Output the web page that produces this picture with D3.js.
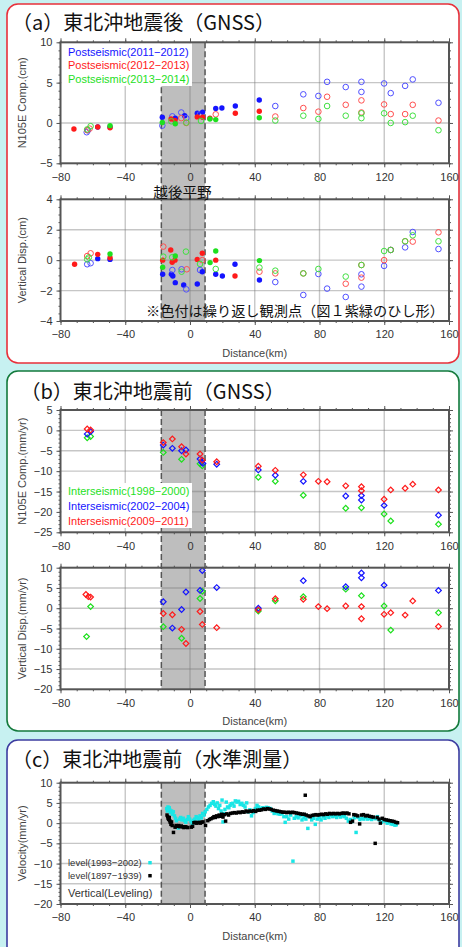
<!DOCTYPE html>
<html>
<head>
<meta charset="utf-8">
<script src="https://cdn.jsdelivr.net/npm/d3@7"></script>
<style>
  body { margin: 0; background: #c7f1f1; }
  svg { display: block; }
</style>
</head>
<body>
<svg id="chart"></svg>
<script>
// ---- data ----
var xTickValues = [-80, -40, 0, 40, 80, 120, 160];
var plainBand = [-17.7, 9.3];   // 越後平野 (km)

// (a) postseismic GNSS  [distance km, disp cm, 1 = repeat site (filled)]
var post1112H = [[-63.8,-1.15,0],[-63,-0.9,0],[-57,-0.5,1],[-49.4,-0.5,1],[-17.1,0.7,1],[-17.1,-0.33,0],[-10.9,0.82,0],[-9.1,0.6,1],[-5.4,1.3,0],[-3.3,0.9,1],[-2.3,0.6,0],[4.5,1.2,1],[6.2,1.1,0],[7.8,1.35,1],[15.9,1.8,1],[19.7,1.85,1],[28,2.1,1],[42.8,2.85,1],[52.7,2.1,0],[70,3.55,0],[79.3,3.35,0],[84.7,5.1,0],[96.2,4.45,0],[105.9,5.1,0],[105.9,3.85,0],[119.9,4.9,0],[124,3.7,0],[132.9,4.6,0],[137.6,5.4,0],[153.5,2.5,0]];
var post1213H = [[-71.7,-0.75,1],[-63.5,-0.9,0],[-62,-0.7,0],[-57,-0.5,1],[-49.4,-0.6,1],[-11.7,0.5,1],[-9.3,0.3,1],[-5.4,0.6,0],[-2.3,0,0],[4.5,0.75,1],[7.8,0.7,1],[12.3,0.6,1],[15.9,1.07,0],[28,1.2,1],[42.8,1.45,1],[52.7,0.8,0],[70,1.85,0],[79.3,1.4,0],[84.7,3.25,0],[96.2,2.25,0],[105.9,2.8,0],[105.9,1.3,0],[119.9,2.3,0],[124,1.1,0],[132.9,1.1,0],[137.6,2.25,0],[153.5,0.3,0]];
var post1314H = [[-63.5,-0.8,0],[-61.4,-0.4,0],[-49.4,-0.33,1],[-17.1,0.05,1],[-11.5,0.2,0],[-9.1,-0.1,1],[-2.3,0.05,0],[6.8,0.25,0],[12.3,0.5,1],[15.9,0.42,1],[42.8,0.65,1],[52.7,0.3,0],[70,0.9,0],[79.3,0.5,0],[84.7,2.1,0],[96.2,0.9,0],[105.9,1.2,0],[105.9,0.6,0],[119.9,1.2,0],[124,0,0],[132.9,0.1,0],[137.6,0.9,0],[153.5,-0.9,0]];

var post1112V = [[-63.5,-0.27,0],[-61.4,-0.2,0],[-57,0.1,1],[-49.4,0.05,1],[-16.9,-0.93,1],[-11.5,-0.93,1],[-10.9,-0.65,0],[-10.6,-1.04,1],[-9.1,-1.48,1],[-5.2,-0.6,0],[-3.9,-1.63,1],[-2.3,-1.92,0],[4.5,-1.57,1],[6.2,-0.65,0],[7.6,-0.76,1],[15.9,-0.93,1],[20,-1.04,1],[27.8,-0.27,1],[42.9,-1.3,1],[52.7,-1.44,0],[70,-2.29,0],[79.3,-0.91,0],[84.7,-1.87,0],[96.2,-2.42,0],[105.9,-0.93,0],[105.9,-1.74,0],[119.9,-0.38,0],[124,0.67,0],[132.9,0.84,0],[137.6,1.85,0],[153.5,0.73,0]];
var post1213V = [[-71.3,-0.27,1],[-63.5,0.27,0],[-61.4,0.45,0],[-57,0.38,1],[-49.4,0.16,1],[-16.9,0,1],[-16.5,0.89,0],[-11.9,0.67,1],[-11,-0.14,1],[-9.3,0,1],[-2,-0.6,0],[4.5,0.05,1],[7.6,0.45,1],[7.6,0,0],[15.9,0,1],[27.8,-1.04,1],[42.9,-0.76,0],[52.7,-0.87,0],[70,-0.87,0],[96.2,-1.55,0],[105.9,-0.32,0],[105.9,-1.15,0],[119.9,0,0],[124,0.67,0],[132.9,1.24,0],[137.6,1.22,0],[153.5,1.83,0]];
var post1314V = [[-63.5,0.05,0],[-62.5,0.18,0],[-49.4,0.4,1],[-16.9,-0.47,1],[-16.5,0.23,0],[-11,0.19,0],[-9.1,0.27,1],[-5.2,-0.76,0],[-2.5,0.56,0],[6.2,-0.25,0],[12.4,-0.16,1],[15.9,0.6,1],[15.9,-0.58,0],[42.9,-0.03,1],[42.9,-0.49,0],[52.7,-0.69,0],[70,-0.87,0],[79.3,-0.58,0],[96.2,-1.08,0],[105.9,-0.32,0],[119.9,0.6,0],[124,0.67,0],[132.9,1.24,0],[137.6,1.63,0],[153.5,1.24,0]];

// (b) interseismic GNSS  [distance km, mm/yr]
var inter9800H = [[-63.5,-1.8],[-61.4,-1.5],[-16.5,-5.4],[-5.2,-7.1],[6.2,-8.2],[7.6,-8.7],[42.2,-11.5],[52.7,-12.5],[70,-15.9],[96.2,-19.1],[105.9,-19.0],[119.9,-20.5],[124,-22.2],[153.5,-23.0]];
var inter0204H = [[-63.5,-0.9],[-61.4,-0.3],[-16.5,-3.6],[-10.9,-4.4],[-5.2,-5.0],[-2.5,-4.8],[6.2,-7.0],[7.2,-7.8],[8,-8.1],[16.5,-8.3],[42.2,-9.7],[52.7,-11.0],[70,-12.5],[96.2,-16.1],[105.9,-16.0],[105.9,-17.1],[119.9,-18.4],[153.5,-20.8]];
var inter0911H = [[-63.5,0.35],[-61.4,0.1],[-16.5,-3.0],[-10.9,-2.1],[-5.2,-4.0],[-2.5,-5.8],[6.2,-5.8],[7.6,-7.3],[16.5,-7.7],[42.2,-8.8],[52.7,-9.8],[70,-10.9],[79.3,-12.5],[84.7,-12.6],[96.2,-13.6],[105.9,-13.8],[105.9,-14.8],[119.9,-16.9],[124,-14.6],[132.9,-14.2],[137.6,-13.2],[153.5,-14.6]];

var inter9800V = [[-63.9,-7.0],[-61.4,0.4],[-16.5,-4.55],[-5.2,-7.4],[6.2,2.4],[7.6,4.2],[42.2,-0.7],[52.7,1.85],[70,2.85],[96.2,4.7],[105.9,3.1],[119.9,0.55],[124,-5.4],[153.5,-1.1]];
var inter0204V = [[-16.5,1.6],[-10.9,-4.9],[-5.2,-0.3],[-2.5,4.0],[6.2,4.4],[7.6,9.3],[16.5,5.1],[42.2,0],[70,6.8],[96.2,5.3],[105.9,8.7],[105.9,7.5],[119.9,5.7],[153.5,4.4]];
var inter0911V = [[-64.3,3.4],[-62.8,2.85],[-61.4,2.75],[-16.5,-1.3],[-10.9,-1.6],[-5.2,-5.2],[-2.5,-8.7],[6.2,-0.8],[7.6,-4.0],[16.5,-4.8],[42.2,-0.4],[52.7,2.35],[70,2.2],[79.3,0.4],[84.7,-0.1],[96.2,0.55],[105.9,0.4],[105.9,-2.6],[119.9,-1.5],[124,-1.1],[132.9,-1.7],[137.6,1.8],[153.5,-4.5]];

// (c) leveling  [distance km, mm/yr]
var level9302 = [[-14.4,3.6],[-14.0,3.0],[-13.6,4.0],[-13.2,3.4],[-12.8,3.8],[-12.4,3.2],[-12.0,2.6],[-11.4,3.0],[-10.8,2.2],[-10.3,2.8],[-9.6,1.8],[-9.0,1.2],[-8.4,0.6],[-7.8,-0.8],[-7.2,-1.2],[-6.6,1.0],[-5.8,1.4],[-5.0,0.8],[-4.2,1.2],[-3.4,0.6],[-2.6,0.2],[-1.8,0.9],[-1.0,1.6],[-0.2,1.0],[0.6,0.4],[1.4,-0.1],[2.2,0.7],[3.0,1.0],[3.8,1.6],[4.6,1.3],[5.4,1.0],[6.2,1.8],[7.0,1.3],[7.8,2.4],[8.6,2.0],[9.4,2.8],[10.4,3.4],[11.4,4.0],[12.4,4.4],[13.4,4.9],[14.4,5.3],[15.2,4.6],[16.0,4.2],[16.8,5.0],[17.6,3.6],[18.4,4.4],[19.2,3.0],[19.8,5.7],[20.4,0.3],[21.0,2.4],[21.6,3.4],[22.4,5.2],[23.2,4.0],[24.0,3.8],[24.8,4.4],[25.6,4.8],[26.4,4.9],[27.2,4.2],[28.0,5.5],[29.0,5.2],[30.0,5.4],[31.0,4.6],[32.0,4.9],[33.0,4.4],[34.0,4.0],[35.0,5.0],[36.0,2.8],[37.0,3.3],[38.0,1.8],[39.0,2.6],[40.4,3.6],[41.4,4.4],[42.4,4.0],[43.6,3.6],[44.8,3.8],[46.0,3.7],[47.2,3.9],[48.4,3.8],[49.6,3.6],[50.8,3.0],[52.0,2.4],[53.2,2.6],[54.4,2.3],[55.6,2.2],[56.8,2.4],[58.0,1.6],[58.8,0.2],[59.8,1.6],[61.0,1.0],[62.2,2.0],[63.6,-9.4],[64.4,1.2],[65.6,1.6],[66.8,1.3],[68.0,1.8],[69.2,0.8],[70.4,1.4],[71.6,1.0],[72.8,-1.3],[74.0,1.6],[75.2,0.8],[76.4,1.2],[77.4,-0.3],[78.6,1.0],[79.8,1.4],[81.0,0.8],[82.2,1.6],[83.4,1.2],[84.6,1.8],[85.8,1.4],[87.0,2.0],[88.2,1.6],[89.4,1.8],[90.6,1.4],[91.8,1.9],[93.0,1.5],[94.2,1.8],[95.4,1.6],[96.6,1.2],[97.8,0.5],[99.0,0.9],[100.2,0.4],[101.4,1.3],[102.6,-2.3],[103.8,1.4],[105.0,0.9],[106.2,1.2],[107.4,1.0],[108.6,1.4],[109.8,1.0],[111.0,1.2],[112.2,0.9],[113.4,1.3],[114.6,1.1],[115.8,1.6],[117.0,0.8],[118.2,0.2],[119.4,0.6],[120.6,0.5],[121.8,0.0],[123.0,0.2],[124.2,-0.2],[125.4,-0.3],[126.6,-0.5],[127.4,-0.4]];
var level1897 = [[-14.2,2.0],[-13.8,1.6],[-13.5,1.2],[-13.2,0.9],[-12.8,1.4],[-12.5,0.6],[-12.2,0.2],[-11.8,-0.3],[-11.4,0.3],[-11.0,-0.6],[-10.2,-2.3],[-9.2,-1.0],[-8.6,-0.6],[-7.8,-0.8],[-7.0,-0.6],[-6.2,-0.9],[-5.4,-0.7],[-4.6,-0.9],[-3.8,-1.1],[-3.0,-0.9],[-2.2,-1.0],[-1.4,-1.1],[0.8,-1.0],[1.6,-0.8],[2.4,0.1],[3.2,0.2],[4.0,0.0],[4.8,0.1],[5.6,0.2],[6.4,0.0],[7.2,0.2],[8.0,0.3],[9.6,-0.6],[11.0,0.6],[12.0,0.9],[13.0,1.1],[14.0,1.3],[14.8,1.6],[15.6,1.4],[16.4,1.8],[17.2,1.6],[18.0,2.0],[18.8,1.7],[19.6,2.2],[20.4,1.5],[21.2,2.1],[22.0,0.5],[22.8,2.3],[23.8,2.0],[25.0,2.4],[26.2,2.5],[27.4,2.6],[28.6,2.5],[29.8,2.7],[31.0,2.6],[32.2,2.8],[33.4,2.7],[34.6,3.0],[35.8,2.8],[37.0,3.0],[38.2,2.9],[39.4,3.1],[40.6,2.9],[41.8,3.2],[43.0,3.2],[44.2,3.3],[45.4,3.5],[46.6,3.4],[47.8,3.6],[49.0,3.5],[50.2,3.4],[51.4,3.2],[52.6,3.1],[53.8,3.0],[55.0,2.9],[56.2,2.8],[57.4,2.7],[58.6,2.7],[59.8,2.6],[61.0,2.7],[62.2,2.6],[63.4,2.7],[64.6,2.6],[65.8,2.5],[67.0,2.4],[68.2,2.3],[69.4,2.2],[70.6,2.2],[71.2,6.9],[71.8,2.0],[73.0,1.8],[74.2,1.6],[75.4,1.9],[76.6,2.0],[77.8,2.1],[79.0,2.0],[80.2,2.1],[81.4,2.2],[82.6,2.1],[83.8,2.3],[85.0,2.2],[86.2,2.4],[87.4,2.3],[88.6,2.4],[89.8,2.3],[91.0,2.4],[92.2,2.3],[93.4,2.4],[94.6,2.5],[95.8,2.4],[97.0,2.5],[98.2,2.3],[99.2,0.2],[100.4,0.5],[101.2,2.1],[102.4,2.0],[103.6,1.8],[104.8,-0.2],[106.0,2.0],[107.2,2.1],[108.4,1.8],[109.6,1.9],[110.8,1.7],[112.0,1.6],[113.2,1.5],[114.4,-5.0],[115.6,1.4],[116.8,1.0],[117.6,0.0],[118.8,1.2],[120.0,0.9],[121.2,0.8],[122.4,0.7],[123.6,0.6],[124.8,0.5],[126.0,0.4],[127.2,0.2],[128.2,0.1]];

// ---- colours ----
var blue = "#1414ff", red = "#ff1a1a", green = "#1ee01e";
var openBlue = "#5050ff", openRed = "#ff5050", openGreen = "#40e040";
var cyan = "#19e6e6";

// ---- svg ----
var svgWidth = 462, svgHeight = 947;
var svg = d3.select("#chart").attr("width", svgWidth).attr("height", svgHeight);
var x = d3.scaleLinear().domain([-80, 160]).range([60.5, 449]);
var frameColor = "#555";
var sans = "'Liberation Sans', Arial, sans-serif";
var jp = "'Noto Sans CJK JP', sans-serif";

function panelBox(y0, h, color) {
  svg.append("rect")
    .attr("x", 7).attr("y", y0).attr("width", 452).attr("height", h)
    .attr("rx", 11)
    .attr("fill", "white").attr("stroke", color).attr("stroke-width", 1.6);
}

function title(tx, ty, txt) {
  svg.append("text").attr("x", tx).attr("y", ty)
    .style("font-family", jp).style("font-size", "20px").attr("fill", "#111")
    .text(txt);
}

function band(y0, y1) {
  svg.append("rect")
    .attr("x", x(plainBand[0])).attr("y", y0)
    .attr("width", x(plainBand[1]) - x(plainBand[0])).attr("height", y1 - y0)
    .attr("fill", "#bebebe");
}

function bandEdges(y0, y1) {
  plainBand.forEach(function(v) {
    svg.append("line")
      .attr("x1", x(v)).attr("x2", x(v)).attr("y1", y0).attr("y2", y1)
      .attr("stroke", "#555").attr("stroke-width", 1.5)
      .attr("stroke-dasharray", "6,3");
  });
}

// grid for one plot, returns the y scale
function makePlot(cfg) {
  var y = d3.scaleLinear().domain(cfg.domain).range([cfg.bottom, cfg.top]);
  var grid = svg.append("g").attr("stroke", "#777").attr("stroke-opacity", 0.42).attr("stroke-width", 1.4);
  xTickValues.slice(1, -1).forEach(function(v) {
    grid.append("line").attr("x1", x(v)).attr("x2", x(v)).attr("y1", cfg.top).attr("y2", cfg.bottom);
  });
  cfg.labels.slice(1, -1).forEach(function(v) {
    grid.append("line").attr("x1", x.range()[0]).attr("x2", x.range()[1]).attr("y1", y(v)).attr("y2", y(v));
  });
  return y;
}

// frame, ticks and labels drawn on top
function finishPlot(cfg, y) {
  var xr = x.range();
  var xMinor = d3.range(-80, 161, 10);

  var bottom = svg.append("g").attr("transform", "translate(0," + cfg.bottom + ")");
  bottom.call(d3.axisBottom(x).tickValues(xMinor).tickSize(2).tickFormat(""));
  bottom.append("g").call(d3.axisBottom(x).tickValues(xTickValues).tickSize(4).tickPadding(5.5));
  var top = svg.append("g").attr("transform", "translate(0," + cfg.top + ")");
  top.call(d3.axisTop(x).tickValues(xMinor).tickSize(2).tickFormat(""));
  top.append("g").call(d3.axisTop(x).tickValues(xTickValues).tickSize(4).tickFormat(""));

  var left = svg.append("g").attr("transform", "translate(" + xr[0] + ",0)");
  left.call(d3.axisLeft(y).tickValues(cfg.minor).tickSize(2).tickFormat(""));
  left.append("g").call(d3.axisLeft(y).tickValues(cfg.labels).tickSize(4).tickPadding(4));
  var right = svg.append("g").attr("transform", "translate(" + xr[1] + ",0)");
  right.call(d3.axisRight(y).tickValues(cfg.minor).tickSize(2).tickFormat(""));
  right.append("g").call(d3.axisRight(y).tickValues(cfg.labels).tickSize(4).tickFormat(""));

  svg.selectAll(".domain").remove();
  [bottom, top, left, right].forEach(function(a) {
    a.selectAll("line").attr("stroke", frameColor);
    a.selectAll("text").attr("fill", "#333").style("font-family", sans).style("font-size", "11px");
  });

  svg.append("rect")
    .attr("x", xr[0]).attr("y", cfg.top)
    .attr("width", xr[1] - xr[0]).attr("height", cfg.bottom - cfg.top)
    .attr("fill", "none").attr("stroke", frameColor).attr("stroke-width", 2);

  svg.append("text")
    .attr("transform", "translate(26," + (cfg.top + cfg.bottom) / 2 + ") rotate(-90)")
    .attr("text-anchor", "middle")
    .style("font-family", sans).style("font-size", "11px").attr("fill", "#444")
    .text(cfg.yTitle);

  if (cfg.xTitle) {
    svg.append("text")
      .attr("x", (xr[0] + xr[1]) / 2).attr("y", cfg.bottom + 36)
      .attr("text-anchor", "middle")
      .style("font-family", sans).style("font-size", "11px").attr("fill", "#444")
      .text("Distance(km)");
  }
}

function circles(y, data, fillC, openC) {
  svg.append("g").selectAll("circle")
    .data(data).enter().append("circle")
    .attr("cx", d => x(d[0])).attr("cy", d => y(d[1]))
    .attr("r", d => d[2] ? 2.7 : 2.8)
    .attr("fill", d => d[2] ? fillC : "none")
    .attr("stroke", d => d[2] ? "none" : openC)
    .attr("stroke-width", 1);
}

function diamonds(y, data, c) {
  svg.append("g").selectAll("path")
    .data(data).enter().append("path")
    .attr("d", d3.symbol(d3.symbolSquare, 16))
    .attr("transform", d => "translate(" + x(d[0]) + "," + y(d[1]) + ") rotate(45)")
    .attr("fill", "none").attr("stroke", c).attr("stroke-width", 1.2);
}

function squares(y, data, c) {
  svg.append("g").selectAll("path")
    .data(data).enter().append("path")
    .attr("d", d3.symbol(d3.symbolSquare, 12))
    .attr("transform", d => "translate(" + x(d[0]) + "," + y(d[1]) + ")")
    .attr("fill", c);
}

function legendBox(x0, y0, x1, y1) {
  svg.append("rect").attr("x", x0).attr("y", y0).attr("width", x1 - x0).attr("height", y1 - y0).attr("fill", "white");
}

function legendText(tx, ty, txt, c, size) {
  svg.append("text").attr("x", tx).attr("y", ty)
    .style("font-family", sans).style("font-size", size || "11px")
    .attr("fill", c).text(txt);
}

// ================= (a) =================
var aTop = { top: 42.3, bottom: 163.3, domain: [-5, 10], labels: [-5, 0, 5, 10],
  minor: d3.range(-5, 10.1, 1), yTitle: "N105E Comp.(cm)", xTitle: false };
var aBot = { top: 199.3, bottom: 321, domain: [-4, 4], labels: [-4, -2, 0, 2, 4],
  minor: d3.range(-4, 4.1, 0.5), yTitle: "Vertical Disp.(cm)", xTitle: true };

panelBox(4, 359, "#e8303a");
title(12, 30, "（a）東北沖地震後（GNSS）");
band(aTop.top, aBot.bottom);
var yAT = makePlot(aTop);
var yAB = makePlot(aBot);
bandEdges(aTop.top, aBot.bottom);
legendBox(61.5, 43.3, 192, 86);
legendText(68, 55.5, "Postseismic(2011−2012)", blue);
legendText(68, 69.2, "Postseismic(2012−2013)", red);
legendText(68, 83, "Postseismic(2013−2014)", green);

circles(yAT, post1112H, blue, openBlue);
circles(yAT, post1213H, red, openRed);
circles(yAT, post1314H, green, openGreen);
circles(yAB, post1112V, blue, openBlue);
circles(yAB, post1213V, red, openRed);
circles(yAB, post1314V, green, openGreen);

finishPlot(aTop, yAT);
finishPlot(aBot, yAB);

svg.append("text").attr("x", 182.5).attr("y", 198.3).attr("text-anchor", "middle")
  .style("font-family", jp).style("font-size", "14.6px").attr("fill", "#111")
  .text("越後平野");
svg.append("text").attr("x", 146).attr("y", 315.5)
  .style("font-family", jp).style("font-size", "14.2px").attr("fill", "#111")
  .text("※色付は繰り返し観測点（図１紫緑のひし形）");

// ================= (b) =================
var bTop = { top: 410, bottom: 532.3, domain: [-25, 5], labels: [-25, -20, -15, -10, -5, 0, 5],
  minor: d3.range(-25, 5.1, 1), yTitle: "N105E Comp.(mm/yr)", xTitle: false };
var bBot = { top: 567.7, bottom: 689.3, domain: [-20, 10], labels: [-20, -15, -10, -5, 0, 5, 10],
  minor: d3.range(-20, 10.1, 1), yTitle: "Vertical Disp.(mm/yr)", xTitle: true };

panelBox(371, 360, "#137a3c");
title(20.5, 399, "（b）東北沖地震前（GNSS）");
band(bTop.top, bBot.bottom);
var yBT = makePlot(bTop);
var yBB = makePlot(bBot);
bandEdges(bTop.top, bBot.bottom);
legendBox(61.5, 483, 192, 528);
legendText(68, 495, "Interseismic(1998−2000)", green);
legendText(68, 510, "Interseismic(2002−2004)", blue);
legendText(68, 524.5, "Interseismic(2009−2011)", red);

diamonds(yBT, inter9800H, green);
diamonds(yBT, inter0204H, blue);
diamonds(yBT, inter0911H, red);
diamonds(yBB, inter9800V, green);
diamonds(yBB, inter0204V, blue);
diamonds(yBB, inter0911V, red);

finishPlot(bTop, yBT);
finishPlot(bBot, yBB);

// ================= (c) =================
var cPlot = { top: 782.7, bottom: 904, domain: [-20, 10], labels: [-20, -15, -10, -5, 0, 5, 10],
  minor: d3.range(-20, 10.1, 1), yTitle: "Velocity(mm/yr)", xTitle: true };

panelBox(740, 230, "#3c3ca0");
title(12, 766.5, "（c）東北沖地震前（水準測量）");
band(cPlot.top, cPlot.bottom);
var yC = makePlot(cPlot);
bandEdges(cPlot.top, cPlot.bottom);

squares(yC, level9302, cyan);
squares(yC, level1897, "#000");

legendText(68, 866, "level(1993−2002)", "#333", "9.5px");
legendText(68, 879, "level(1897−1939)", "#333", "9.5px");
svg.append("path").attr("d", d3.symbol(d3.symbolSquare, 12)).attr("transform", "translate(150,862.7)").attr("fill", cyan);
svg.append("path").attr("d", d3.symbol(d3.symbolSquare, 12)).attr("transform", "translate(150,875.7)").attr("fill", "#000");
legendText(68, 897, "Vertical(Leveling)", "#333", "11px");

finishPlot(cPlot, yC);
</script>
</body>
</html>
